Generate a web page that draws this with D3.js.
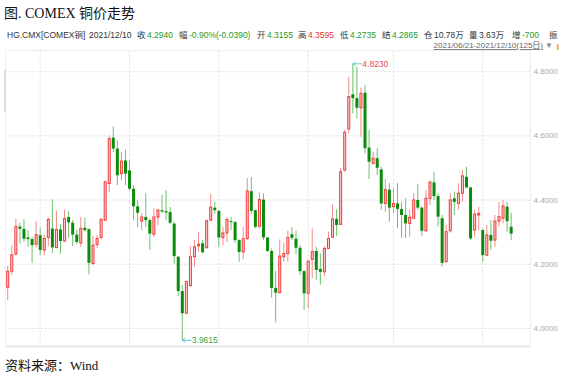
<!DOCTYPE html>
<html>
<head>
<meta charset="utf-8">
<script src="https://cdn.jsdelivr.net/npm/d3@7/dist/d3.min.js"></script>
<style>
  body { margin: 0; background: #fff; }
  svg { display: block; }
</style>
</head>
<body>
<div id="graph"></div>
<script>
// COMEX copper daily candles, 2021/06/21 - 2021/12/10 (125 trading days)
const opens = [
  4.127, 4.177, 4.230, 4.316, 4.309, 4.282, 4.277, 4.261, 4.289, 4.243,
  4.282, 4.310, 4.251, 4.307, 4.271, 4.346, 4.328, 4.291, 4.265, 4.312,
  4.308, 4.201, 4.260, 4.282, 4.336, 4.450, 4.593, 4.559, 4.481, 4.522,
  4.491, 4.434, 4.379, 4.333, 4.346, 4.336, 4.292, 4.346, 4.367, 4.364,
  4.361, 4.325, 4.222, 4.115, 4.046, 4.132, 4.222, 4.256, 4.264, 4.250,
  4.336, 4.375, 4.365, 4.282, 4.296, 4.333, 4.330, 4.274, 4.237, 4.279,
  4.426, 4.367, 4.317, 4.400, 4.282, 4.240, 4.125, 4.110, 4.222, 4.232,
  4.292, 4.278, 4.250, 4.177, 4.108, 4.214, 4.240, 4.184, 4.175, 4.248,
  4.283, 4.340, 4.323, 4.492, 4.620, 4.728, 4.716, 4.686, 4.733, 4.562,
  4.513, 4.529, 4.494, 4.388, 4.431, 4.378, 4.388, 4.371, 4.352, 4.326,
  4.342, 4.399, 4.375, 4.303, 4.404, 4.454, 4.411, 4.342, 4.207, 4.303,
  4.404, 4.388, 4.420, 4.471, 4.438, 4.305, 4.352, 4.305, 4.227, 4.290,
  4.274, 4.333, 4.342, 4.378, 4.3155
]
const highs = [
  4.194, 4.257, 4.341, 4.328, 4.338, 4.305, 4.284, 4.334, 4.313, 4.289,
  4.344, 4.401, 4.365, 4.323, 4.369, 4.365, 4.336, 4.307, 4.346, 4.344,
  4.310, 4.286, 4.289, 4.344, 4.460, 4.600, 4.628, 4.584, 4.548, 4.555,
  4.524, 4.445, 4.398, 4.359, 4.421, 4.341, 4.372, 4.372, 4.414, 4.429,
  4.377, 4.331, 4.224, 4.134, 4.147, 4.255, 4.274, 4.300, 4.274, 4.338,
  4.417, 4.393, 4.367, 4.315, 4.344, 4.346, 4.334, 4.276, 4.315, 4.467,
  4.470, 4.369, 4.422, 4.419, 4.284, 4.248, 4.178, 4.276, 4.265, 4.303,
  4.315, 4.303, 4.258, 4.180, 4.211, 4.310, 4.253, 4.232, 4.255, 4.300,
  4.385, 4.370, 4.498, 4.617, 4.783, 4.823, 4.814, 4.749, 4.757, 4.617,
  4.549, 4.560, 4.502, 4.464, 4.451, 4.435, 4.451, 4.393, 4.404, 4.368,
  4.420, 4.449, 4.378, 4.430, 4.461, 4.487, 4.420, 4.352, 4.321, 4.420,
  4.425, 4.451, 4.492, 4.502, 4.440, 4.368, 4.378, 4.311, 4.321, 4.336,
  4.352, 4.393, 4.399, 4.393, 4.3595
]
const lows = [
  4.087, 4.165, 4.227, 4.263, 4.268, 4.253, 4.203, 4.251, 4.227, 4.227,
  4.255, 4.234, 4.248, 4.232, 4.268, 4.282, 4.255, 4.261, 4.253, 4.300,
  4.167, 4.196, 4.250, 4.276, 4.334, 4.424, 4.548, 4.445, 4.460, 4.445,
  4.429, 4.336, 4.315, 4.305, 4.315, 4.243, 4.284, 4.320, 4.359, 4.336,
  4.323, 4.201, 4.100, 3.9615, 4.043, 4.129, 4.191, 4.237, 4.232, 4.248,
  4.333, 4.356, 4.253, 4.258, 4.268, 4.305, 4.265, 4.206, 4.215, 4.274,
  4.356, 4.310, 4.310, 4.274, 4.237, 4.095, 4.018, 4.108, 4.206, 4.206,
  4.274, 4.230, 4.165, 4.056, 4.061, 4.155, 4.150, 4.135, 4.162, 4.245,
  4.280, 4.287, 4.321, 4.487, 4.607, 4.669, 4.653, 4.596, 4.544, 4.464,
  4.508, 4.477, 4.368, 4.362, 4.331, 4.357, 4.311, 4.281, 4.281, 4.284,
  4.339, 4.368, 4.287, 4.300, 4.383, 4.399, 4.316, 4.191, 4.203, 4.297,
  4.352, 4.368, 4.393, 4.435, 4.274, 4.284, 4.305, 4.207, 4.224, 4.243,
  4.253, 4.316, 4.326, 4.300, 4.2735
]
const closes = [
  4.177, 4.228, 4.316, 4.309, 4.278, 4.277, 4.258, 4.291, 4.243, 4.279,
  4.338, 4.251, 4.307, 4.271, 4.341, 4.329, 4.291, 4.268, 4.310, 4.305,
  4.203, 4.258, 4.279, 4.338, 4.455, 4.590, 4.559, 4.476, 4.520, 4.481,
  4.434, 4.379, 4.359, 4.346, 4.336, 4.294, 4.346, 4.367, 4.363, 4.360,
  4.328, 4.224, 4.115, 4.046, 4.145, 4.222, 4.253, 4.261, 4.236, 4.334,
  4.377, 4.367, 4.282, 4.296, 4.338, 4.330, 4.274, 4.237, 4.278, 4.427,
  4.365, 4.315, 4.400, 4.282, 4.240, 4.125, 4.110, 4.224, 4.232, 4.282,
  4.281, 4.250, 4.177, 4.108, 4.208, 4.238, 4.181, 4.175, 4.248, 4.279,
  4.340, 4.321, 4.487, 4.610, 4.721, 4.716, 4.686, 4.731, 4.560, 4.518,
  4.529, 4.499, 4.388, 4.431, 4.375, 4.388, 4.371, 4.352, 4.326, 4.345,
  4.399, 4.375, 4.303, 4.404, 4.454, 4.411, 4.347, 4.203, 4.300, 4.399,
  4.393, 4.420, 4.474, 4.438, 4.279, 4.355, 4.357, 4.227, 4.290, 4.272,
  4.333, 4.347, 4.380, 4.333, 4.2940
]
// first trading day of Jul..Dec (index into the series)
const monthStarts = [8, 30, 52, 74, 95, 117]
const yTicks = [4.0, 4.2, 4.4, 4.6, 4.8]

const title = '图. COMEX 铜价走势'
const source = '资料来源：Wind'
const rangeText = '2021/06/21-2021/12/10(125日)'
const infoName = 'HG.CMX[COMEX铜]'
const infoDate = '2021/12/10'
const infoLabels = ['收', '幅', '开', '高', '低', '结', '仓', '量', '增', '振']
const infoValues = ['4.2940', '-0.90%(-0.0390)', '4.3155', '4.3595', '4.2735', '4.2865', '10.78万', '3.63万', '-700', '']

const W = 565, H = 375
const plot = {left: 5.5, right: 530.5, top: 50.5, bottom: 346.5}
const UP = '#f03c3c', UP_FILL = '#ffd0d0', UP_WICK = '#f58a8a'
const DOWN = '#0b8c0b', DOWN_WICK = '#6cc26c'
const GREEN_TXT = '#1f9a1f', RED_TXT = '#e83a3a'

const candles = opens.map((o, i) => ({i, o, h: highs[i], l: lows[i], c: closes[i]}))

const svg = d3.select('#graph').append('svg')
  .attr('width', W)
  .attr('height', H)
  .style('font-family', '"Liberation Sans", "Noto Sans CJK SC", sans-serif')

svg.append('rect').attr('width', W).attr('height', H).attr('fill', '#fff')

const x = d3.scaleBand()
  .domain(d3.range(candles.length))
  .range([5.7, 513.2])
  .paddingInner(0.26)
  .paddingOuter(0.13)
const cx = i => x(i) + x.bandwidth() / 2

const y = d3.scaleLinear()
  .domain([4.0, 4.8])
  .range([328, 71.2])

// title
svg.append('text')
  .attr('x', 4).attr('y', 18)
  .attr('font-family', '"Liberation Serif", "Noto Sans CJK SC", serif')
  .attr('font-size', 14)
  .attr('fill', '#111')
  .text(title)

// info line
const infoX = [137, 179, 257, 298, 340, 382, 424, 469, 512, 549]
const info = svg.append('g').attr('font-size', 8.5).attr('fill', '#333')
info.append('text').attr('x', 7).attr('y', 38).text(infoName)
info.append('text').attr('x', 89).attr('y', 38).text(infoDate)
infoLabels.forEach((lab, k) => {
  const t = info.append('text').attr('x', infoX[k]).attr('y', 38)
  t.append('tspan').text(lab)
  const v = infoValues[k]
  let col = '#333'
  if (v.startsWith('-') || k === 0 || k === 2 || k === 4 || k === 5) col = GREEN_TXT
  else if (k === 3) col = RED_TXT
  t.append('tspan').attr('dx', 1.5).attr('fill', col).text(v)
})

// date range
svg.append('text')
  .attr('x', 543).attr('y', 48)
  .attr('text-anchor', 'end')
  .attr('font-size', 8)
  .attr('fill', '#666')
  .attr('text-decoration', 'underline')
  .text(rangeText)
svg.append('text')
  .attr('x', 545).attr('y', 48)
  .attr('font-size', 8)
  .attr('fill', '#888')
  .text('▼')
svg.append('rect').attr('x', 557).attr('y', 44).attr('width', 1.5).attr('height', 6).attr('fill', '#f5a623')

// frame
svg.append('line').attr('x1', plot.left).attr('x2', plot.right).attr('y1', plot.top).attr('y2', plot.top).attr('stroke', '#eee')
svg.append('line').attr('x1', plot.left).attr('x2', plot.right).attr('y1', plot.bottom).attr('y2', plot.bottom).attr('stroke', '#e6e6e6').attr('stroke-width', 2)
svg.append('line').attr('x1', plot.left).attr('x2', plot.left).attr('y1', plot.top).attr('y2', plot.bottom).attr('stroke', '#eee')
svg.append('line').attr('x1', plot.right).attr('x2', plot.right).attr('y1', plot.top).attr('y2', plot.bottom).attr('stroke', '#eee')
svg.append('rect').attr('x', 4).attr('y', 70).attr('width', 2).attr('height', 42).attr('fill', '#ddd')

// vertical month grid
svg.append('g').selectAll('line')
  .data(monthStarts)
  .join('line')
  .attr('x1', d => cx(d)).attr('x2', d => cx(d))
  .attr('y1', plot.top).attr('y2', plot.bottom)
  .attr('stroke', '#ddd')
  .attr('stroke-dasharray', '2,2')

// y axis on the right, ticks used as grid
const yAxis = svg.append('g')
  .attr('transform', `translate(${plot.right},0)`)
  .call(d3.axisRight(y).tickValues(yTicks).tickSize(-(plot.right - plot.left)).tickPadding(3).tickFormat(d3.format('.4f')))
yAxis.select('.domain').remove()
yAxis.selectAll('line').attr('stroke', '#ddd').attr('stroke-dasharray', '2,2')
yAxis.selectAll('text').attr('fill', '#aaa').attr('font-size', 8).attr('font-family', '"Liberation Sans", sans-serif')

// candles
const g = svg.append('g')
g.selectAll('line.wick')
  .data(candles)
  .join('line')
  .attr('class', 'wick')
  .attr('x1', d => cx(d.i)).attr('x2', d => cx(d.i))
  .attr('y1', d => y(d.h)).attr('y2', d => y(d.l))
  .attr('stroke', d => d.c >= d.o ? UP_WICK : DOWN_WICK)
  .attr('stroke-width', 1)

g.selectAll('rect.body')
  .data(candles)
  .join('rect')
  .attr('class', 'body')
  .attr('x', d => d.c >= d.o ? x(d.i) + 0.5 : x(d.i))
  .attr('width', d => d.c >= d.o ? x.bandwidth() - 1 : x.bandwidth())
  .attr('y', d => y(Math.max(d.o, d.c)))
  .attr('height', d => Math.max(1, Math.abs(y(d.o) - y(d.c))))
  .attr('fill', d => d.c >= d.o ? UP_FILL : DOWN)
  .attr('stroke', d => d.c >= d.o ? UP : 'none')
  .attr('stroke-width', 1)

// max / min markers
const iMax = d3.maxIndex(highs), iMin = d3.minIndex(lows)
const marker = (i, v, col) => {
  const x0 = cx(i), y0 = y(v)
  svg.append('line')
    .attr('x1', x0).attr('x2', x0 + 9).attr('y1', y0).attr('y2', y0)
    .attr('stroke', '#6ec6d8')
  svg.append('path')
    .attr('d', `M${x0},${y0}l3,-2M${x0},${y0}l3,2`)
    .attr('stroke', '#6ec6d8').attr('fill', 'none')
  svg.append('text')
    .attr('x', x0 + 9.5).attr('y', y0 + 3)
    .attr('font-size', 8.5)
    .attr('fill', col)
    .text(d3.format('.4f')(v))
}
marker(iMax, highs[iMax], '#e84a4a')
marker(iMin, lows[iMin], '#3ea53e')

// source
svg.append('text')
  .attr('x', 5).attr('y', 370)
  .attr('font-family', '"Liberation Serif", "Noto Sans CJK SC", serif')
  .attr('font-size', 13)
  .attr('fill', '#111')
  .text(source)
</script>
</body>
</html>
